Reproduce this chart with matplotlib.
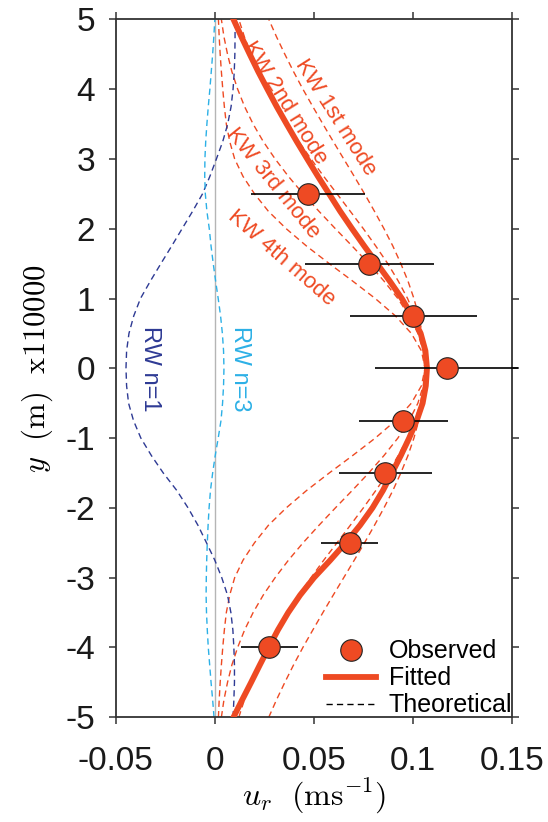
import matplotlib
matplotlib.use("Agg")
import matplotlib.pyplot as plt
from matplotlib.lines import Line2D

# meridional grid (x110000 m), every 0.25 from -5 to 5
y_grid = [-5 + 0.25 * i for i in range(41)]

# fitted profile
fitted = [0.0094, 0.0138, 0.0183, 0.0227, 0.0272, 0.0318, 0.0370, 0.0430, 0.0500, 0.0582,
          0.0660, 0.0732, 0.0795, 0.0848, 0.0893, 0.0938, 0.0980, 0.1018, 0.1048, 0.1064,
          0.1070,
          0.1062, 0.1038, 0.0995, 0.0943, 0.0882, 0.0818, 0.0754, 0.0692, 0.0632, 0.0576,
          0.0520, 0.0466, 0.0413, 0.0362, 0.0312, 0.0265, 0.0219, 0.0176, 0.0134, 0.0094]

# theoretical Kelvin wave modes
kw1 = [0.0272, 0.0311, 0.0353, 0.0397, 0.0444, 0.0494, 0.0545, 0.0597, 0.0650, 0.0703,
       0.0755, 0.0805, 0.0853, 0.0898, 0.0938, 0.0974, 0.1004, 0.1028, 0.1046, 0.1056,
       0.1060,
       0.1056, 0.1046, 0.1028, 0.1004, 0.0974, 0.0938, 0.0898, 0.0853, 0.0805, 0.0755,
       0.0703, 0.0650, 0.0597, 0.0545, 0.0494, 0.0444, 0.0397, 0.0353, 0.0311, 0.0272]
kw2 = [0.0121, 0.0149, 0.0182, 0.0220, 0.0264, 0.0312, 0.0365, 0.0423, 0.0485, 0.0549,
       0.0616, 0.0683, 0.0749, 0.0812, 0.0872, 0.0925, 0.0972, 0.1009, 0.1037, 0.1054,
       0.1060,
       0.1054, 0.1037, 0.1009, 0.0972, 0.0925, 0.0872, 0.0812, 0.0749, 0.0683, 0.0616,
       0.0549, 0.0485, 0.0423, 0.0365, 0.0312, 0.0264, 0.0220, 0.0182, 0.0149, 0.0121]
kw3 = [0.0033, 0.0046, 0.0064, 0.0086, 0.0115, 0.0150, 0.0193, 0.0244, 0.0304, 0.0371,
       0.0445, 0.0525, 0.0608, 0.0693, 0.0776, 0.0853, 0.0923, 0.0980, 0.1024, 0.1051,
       0.1060,
       0.1051, 0.1024, 0.0980, 0.0923, 0.0853, 0.0776, 0.0693, 0.0608, 0.0525, 0.0445,
       0.0371, 0.0304, 0.0244, 0.0193, 0.0150, 0.0115, 0.0086, 0.0064, 0.0046, 0.0033]
kw4 = [0.0018, 0.0022, 0.0027, 0.0033, 0.0040, 0.0048, 0.0058, 0.0075, 0.0100, 0.0142,
       0.0200, 0.0270, 0.0360, 0.0463, 0.0577, 0.0695, 0.0809, 0.0911, 0.0991, 0.1042,
       0.1060,
       0.1042, 0.0991, 0.0911, 0.0809, 0.0695, 0.0577, 0.0463, 0.0360, 0.0270, 0.0200,
       0.0142, 0.0100, 0.0075, 0.0058, 0.0048, 0.0040, 0.0033, 0.0027, 0.0022, 0.0018]

# theoretical Rossby wave modes
rw1 = [0.0092, 0.0096, 0.0099, 0.0099, 0.0096, 0.0091, 0.0081, 0.0064, 0.0035, 0.0000,
       -0.0042, -0.0085, -0.0135, -0.0192, -0.0260, -0.0320, -0.0373, -0.0410, -0.0435, -0.0445,
       -0.0448,
       -0.0445, -0.0433, -0.0409, -0.0375, -0.0325, -0.0272, -0.0218, -0.0165, -0.0112, -0.0062,
       -0.0025, 0.0008, 0.0040, 0.0065, 0.0082, 0.0092, 0.0098, 0.0101, 0.0102, 0.0102]
rw3 = [-0.0004, -0.0011, -0.0019, -0.0026, -0.0033, -0.0038, -0.0042, -0.0044, -0.0043, -0.0041,
       -0.0038, -0.0034, -0.0029, -0.0022, -0.0011, 0.0002, 0.0017, 0.0031, 0.0039, 0.0044,
       0.0046,
       0.0044, 0.0038, 0.0029, 0.0017, 0.0004, -0.0008, -0.0019, -0.0028, -0.0040, -0.0048,
       -0.0051, -0.0050, -0.0046, -0.0040, -0.0033, -0.0025, -0.0018, -0.0011, -0.0005, 0.0000]

# observations with error bars
obs_y = [2.5, 1.5, 0.75, 0, -0.75, -1.5, -2.5, -4]
obs_u = [0.047, 0.078, 0.100, 0.117, 0.095, 0.086, 0.068, 0.0275]
obs_err = [0.0286, 0.0326, 0.032, 0.036, 0.0225, 0.0233, 0.0144, 0.0142]

xticks = [-0.05, 0, 0.05, 0.1, 0.15]
xlabels = ['-0.05', '0', '0.05', '0.1', '0.15']
yticks = [-5, -4, -3, -2, -1, 0, 1, 2, 3, 4, 5]
ylabels = ['-5', '-4', '-3', '-2', '-1', '0', '1', '2', '3', '4', '5']

orange = '#EE4A23'
navy = '#2E3A94'
cyan = '#2CB0E6'

plt.rcParams['font.family'] = ['Liberation Sans', 'DejaVu Sans']
plt.rcParams['mathtext.fontset'] = 'cm'

fig = plt.figure(figsize=(5.48, 8.22), dpi=100)
ax = fig.add_axes([0.2111, 0.1274, 0.7237, 0.8491])

dash = (0, (4.5, 3))
ax.axvline(0, color='#b5b5b5', lw=1, zorder=1)
for kw in [kw1, kw2, kw3, kw4]:
    ax.plot(kw, y_grid, color=orange, lw=1, ls=dash, zorder=2)
ax.plot(rw1, y_grid, color=navy, lw=1, ls=dash, zorder=2)
ax.plot(rw3, y_grid, color=cyan, lw=1, ls=dash, zorder=2)
ax.plot(fitted, y_grid, color=orange, lw=4.2, zorder=3)

eb = ax.errorbar(obs_u, obs_y, xerr=obs_err, fmt='none', ecolor='black', elinewidth=1.2, zorder=4)
for c in eb[2]:
    c.set_clip_on(False)
ax.plot(obs_u, obs_y, 'o', ms=15.5, mfc=orange, mec='#222222', mew=0.8, zorder=5, clip_on=False)

# labels on the curves
ax.text(0.0606, 3.60, 'KW 1st mode', color=orange, fontsize=16, rotation=-57.6,
        ha='center', va='center', rotation_mode='anchor')
ax.text(0.0354, 3.80, 'KW 2nd mode', color=orange, fontsize=16, rotation=-58,
        ha='center', va='center', rotation_mode='anchor')
ax.text(0.0292, 2.65, 'KW 3rd mode', color=orange, fontsize=16, rotation=-51,
        ha='center', va='center', rotation_mode='anchor')
ax.text(0.0337, 1.58, 'KW 4th mode', color=orange, fontsize=16, rotation=-41,
        ha='center', va='center', rotation_mode='anchor')
ax.text(-0.0325, 0, 'RW n=1', color=navy, fontsize=17, rotation=-90,
        ha='center', va='center', rotation_mode='anchor')
ax.text(0.0125, 0, 'RW n=3', color=cyan, fontsize=17, rotation=-90,
        ha='center', va='center', rotation_mode='anchor')

ax.set_xlim(-0.05, 0.15)
ax.set_ylim(-5, 5)
ax.set_xticks(xticks)
ax.set_xticklabels(xlabels)
ax.set_yticks(yticks)
ax.set_yticklabels(ylabels)
ax.tick_params(direction='out', length=5, width=1.1, top=True, right=True,
               labelsize=24, color='#333333', labelcolor='#1a1a1a')
ax.tick_params(axis='x', pad=16)
ax.tick_params(axis='y', pad=10)
for s in ax.spines.values():
    s.set_linewidth(1.3)
    s.set_color('#333333')

ax.set_xlabel(r'$u_r\ \ (\mathrm{ms}^{-1})$', fontsize=23, labelpad=0)
ax.set_ylabel(r'$y\ \ (\mathrm{m})\ \ \mathrm{x110000}$', fontsize=22, labelpad=7)

handles = [
    Line2D([], [], marker='o', ls='none', ms=15.5, mfc=orange, mec='#222222', mew=0.8),
    Line2D([], [], color=orange, lw=4.2),
    Line2D([], [], color='black', lw=1, ls=dash),
]
ax.legend(handles, ['Observed', 'Fitted', 'Theoretical'], loc='lower right',
          bbox_to_anchor=(1.0, 0.0), frameon=False, fontsize=18, borderaxespad=0,
          borderpad=0, handlelength=2.0, handletextpad=0.5, labelspacing=0.12)

fig.savefig('out.png', dpi=100)
